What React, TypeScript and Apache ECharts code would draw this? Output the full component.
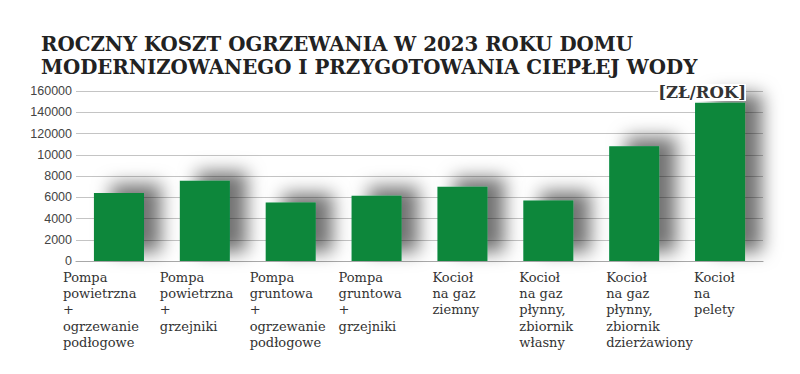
import React, { useEffect, useRef } from "react";
import * as echarts from "echarts";

const categories: string[] = [
  "Pompa\npowietrzna\n+\nogrzewanie\npodłogowe",
  "Pompa\npowietrzna\n+\ngrzejniki",
  "Pompa\ngruntowa\n+\nogrzewanie\npodłogowe",
  "Pompa\ngruntowa\n+\ngrzejniki",
  "Kocioł\nna gaz\nziemny",
  "Kocioł\nna gaz\npłynny,\nzbiornik\nwłasny",
  "Kocioł\nna gaz\npłynny,\nzbiornik\ndzierżawiony",
  "Kocioł\nna\npelety",
];
const values: number[] = [6400, 7550, 5500, 6150, 7000, 5700, 10800, 14900];
const tickLabels: string[] = ["0", "2000", "4000", "6000", "8000", "10000", "120000", "140000", "160000"];
const titleLines: string[] = [
  "ROCZNY KOSZT OGRZEWANIA W 2023 ROKU DOMU",
  "MODERNIZOWANEGO I PRZYGOTOWANIA CIEPŁEJ WODY",
];
const unitLabel = "[ZŁ/ROK]";
// horizontal shift of each category label's left edge from the category centre (styling)
const labelShift: number[] = [56, 45, 41, 38, 30, 29, 28, 26];

export default function App() {
  const ref = useRef<HTMLDivElement>(null);
  useEffect(() => {
    if (!ref.current) return;
    const chart = echarts.init(ref.current, null, { renderer: "svg" });
    const rich: Record<string, any> = {};
    labelShift.forEach((s, i) => {
      rich["s" + i] = {
        width: s * 2,
        align: "left",
        fontFamily: "DejaVu Serif",
        fontSize: 13,
        lineHeight: 16.3,
        color: "#333",
      };
    });
    chart.setOption({
      animation: false,
      backgroundColor: "#fff",
      title: {
        text: titleLines.join("\n"),
        left: 36,
        top: 28,
        textStyle: {
          fontFamily: "DejaVu Serif",
          fontWeight: "bold",
          fontSize: 19.8,
          lineHeight: 22.5,
          color: "#222",
        },
      },
      graphic: [
        {
          type: "text",
          right: 54,
          top: 84,
          z: 10,
          style: {
            text: unitLabel,
            fontFamily: "DejaVu Serif",
            fontWeight: "bold",
            fontSize: 16.5,
            fill: "#333",
            backgroundColor: "#fff",
          },
        },
      ],
      grid: { left: 76, right: 37, top: 91, bottom: 113 },
      xAxis: {
        type: "category",
        data: categories,
        axisLine: { show: true, lineStyle: { color: "#a8a8a8", width: 1.2 } },
        axisTick: { show: false },
        axisLabel: {
          interval: 0,
          margin: 8,
          align: "center",
          verticalAlign: "top",
          formatter: (v: string, i: number) => `{s${i}|${v}}`,
          rich,
        },
      },
      yAxis: {
        type: "value",
        min: 0,
        max: 16000,
        interval: 2000,
        axisLine: { show: false },
        axisTick: { show: false },
        splitLine: { lineStyle: { color: "#c4c4c4", width: 1 } },
        axisLabel: {
          margin: 4,
          fontFamily: "Liberation Sans",
          fontSize: 12.5,
          color: "#444",
          formatter: (v: number) => tickLabels[Math.round(v / 2000)] ?? String(v),
        },
      },
      series: [
        {
          type: "bar",
          data: values,
          barWidth: 50,
          itemStyle: {
            color: "#07873a",
            shadowColor: "rgba(0,0,0,0.55)",
            shadowBlur: 18,
            shadowOffsetX: 17,
            shadowOffsetY: -9,
          },
        },
      ],
    });
    return () => chart.dispose();
  }, []);
  return <div ref={ref} style={{ width: 800, height: 374, position: "absolute", left: 0, top: 0 }} />;
}
